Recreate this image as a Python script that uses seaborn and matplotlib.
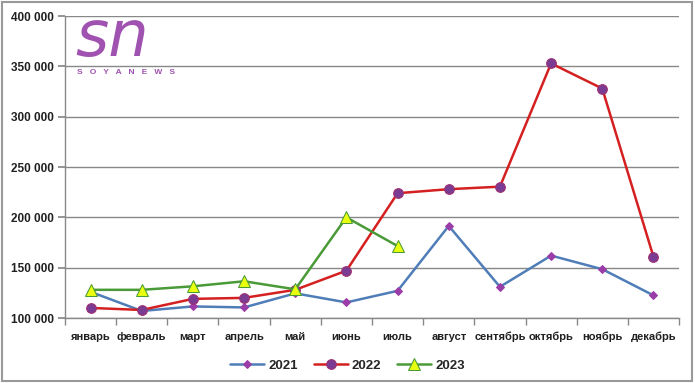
import matplotlib
matplotlib.use("Agg")
import matplotlib.pyplot as plt
from matplotlib.ticker import FuncFormatter, FixedLocator
from matplotlib.patches import Rectangle
import pandas as pd
import seaborn as sns

months = ["январь", "февраль", "март", "апрель", "май", "июнь", "июль",
          "август", "сентябрь", "октябрь", "ноябрь", "декабрь"]
y2021 = [126000, 107000, 111500, 110500, 124500, 115500, 127000,
         191500, 131000, 162000, 148500, 122500]
y2022 = [110000, 108000, 119000, 120000, 128000, 147000, 224000,
         228000, 230500, 353000, 328000, 161000]
y2023 = [128000, 128000, 131500, 136500, 128500, 200000, 171500]

sns.set_theme(style="white")
plt.rcParams["font.family"] = ["Liberation Sans", "DejaVu Sans"]

fig = plt.figure(figsize=(6.95, 3.83), dpi=100)
ax = fig.add_axes([0.0935, 0.1697, 0.8835, 0.7883])

series = [
    ("2021", y2021, dict(color="#4F7DB8", marker="D", markersize=4.5,
                         markerfacecolor="#9B3DA8", markeredgecolor="#9B3DA8", linewidth=1.8)),
    ("2022", y2022, dict(color="#D42020", marker="o", markersize=7,
                         markerfacecolor="#7A3C93", markeredgecolor="#A03070", linewidth=1.8)),
    ("2023", y2023, dict(color="#4A9A38", marker="^", markersize=9,
                         markerfacecolor="#E8FF10", markeredgecolor="#4A9A38", linewidth=1.8)),
]
for name, vals, style in series:
    df = pd.DataFrame({"x": range(len(vals)), "v": vals})
    sns.lineplot(data=df, x="x", y="v", ax=ax, label=name, sort=False, **style)

ax.set_xlim(-0.5, 11.5)
ax.set_ylim(100000, 400000)
ax.set_yticks(range(100000, 400001, 50000))
ax.yaxis.set_major_formatter(FuncFormatter(lambda v, p: f"{v:,.0f}".replace(",", " ")))
ax.grid(axis="y", color="#888888", linewidth=1)
ax.set_xticks(range(12))
ax.set_xticklabels(months)
ax.xaxis.set_minor_locator(FixedLocator([i - 0.5 for i in range(13)]))
ax.tick_params(axis="x", which="major", length=0, pad=10, labelsize=8)
ax.tick_params(axis="x", which="minor", length=5, color="#888888", bottom=True)
ax.tick_params(axis="y", length=5, color="#888888", left=True, labelsize=8.5, pad=3)
for lab in ax.get_xticklabels() + ax.get_yticklabels():
    lab.set_fontweight("bold")
    lab.set_color("#202020")
ax.set_xlabel("")
ax.set_ylabel("")
for s in ["top", "right"]:
    ax.spines[s].set_visible(False)
for s in ["left", "bottom"]:
    ax.spines[s].set_color("#888888")
    ax.spines[s].set_linewidth(1)

leg = ax.legend(loc="center", bbox_to_anchor=(0.5, 0.045), bbox_transform=fig.transFigure,
                ncol=3, frameon=False, fontsize=9.5, handlelength=2.6, columnspacing=1.2,
                handletextpad=0.3)
for t in leg.get_texts():
    t.set_fontweight("bold")

# logo
fig.text(0.108, 0.854, "sn", fontsize=46, style="italic", color="#A052B0",
         family="DejaVu Sans", va="baseline")
fig.text(0.111, 0.81, "S   O   Y   A   N   E   W   S", fontsize=6, fontweight="bold",
         color="#A052B0", va="center")

fig.patches.append(Rectangle((0.003, 0.004), 0.992, 0.99, transform=fig.transFigure,
                             fill=False, edgecolor="#999999", linewidth=1.5))

fig.savefig("out.png", dpi=100)
